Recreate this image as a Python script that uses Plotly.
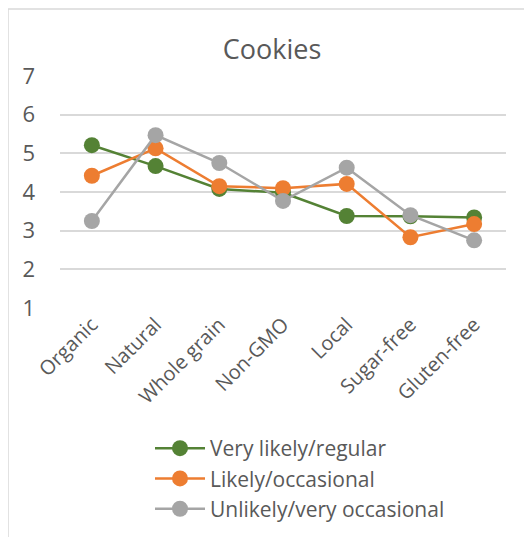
import plotly.graph_objects as go

categories = ["Organic", "Natural", "Whole grain", "Non-GMO", "Local", "Sugar-free", "Gluten-free"]
very_likely = [5.21, 4.67, 4.08, 3.98, 3.38, 3.37, 3.34]
likely = [4.42, 5.13, 4.15, 4.10, 4.21, 2.83, 3.17]
unlikely = [3.25, 5.47, 4.75, 3.77, 4.63, 3.40, 2.75]
series_names = ["Very likely/regular", "Likely/occasional", "Unlikely/very occasional"]
y_ticks = [1, 2, 3, 4, 5, 6, 7]

colors = ["#548235", "#ED7D31", "#A5A5A5"]
W, H = 532, 537
L, T = 52, 68
PW, PH = 446, 232
R = W - L - PW
B = H - T - PH
PB = T + PH  # plot bottom in figure px


def px(x):
    return (x - L) / PW


def py(y):
    return (PB - y) / PH


fig = go.Figure()
for name, vals, c in zip(series_names, [very_likely, likely, unlikely], colors):
    fig.add_trace(go.Scatter(
        x=categories, y=vals, name=name, mode="lines+markers",
        line=dict(color=c, width=2.5),
        marker=dict(color=c, size=16),
    ))

fig.add_shape(type="rect", xref="paper", yref="paper",
              x0=px(0), x1=px(519), y0=py(545), y1=py(1),
              line=dict(color="#d9d9d9", width=1.5), layer="below")

fig.update_layout(
    width=W, height=H,
    margin=dict(l=L, r=R, t=T, b=B),
    paper_bgcolor="white", plot_bgcolor="white",
    font=dict(family="Open Sans", color="#595959", size=18),
    title=dict(text="Cookies", x=264 / W, xanchor="center", y=1 - 42 / H, yanchor="middle",
               font=dict(size=27, color="#595959")),
    showlegend=True,
    legend=dict(x=px(142), xanchor="left", y=py(420), yanchor="top",
                font=dict(size=21, color="#595959"), bgcolor="rgba(0,0,0,0)",
                tracegroupgap=0, itemwidth=50),
)
fig.update_xaxes(showgrid=False, showline=False, zeroline=False, tickangle=-45,
                 tickfont=dict(size=20, color="#595959"), ticks="", range=[-0.5, 6.5])
fig.update_yaxes(range=[1, 7], tickvals=y_ticks, showgrid=True, gridcolor="#d9d9d9", gridwidth=1.5,
                 zeroline=False, showline=False, ticks="", ticklabelstandoff=24,
                 tickfont=dict(size=22, color="#595959"))

fig.write_html("out.html")
